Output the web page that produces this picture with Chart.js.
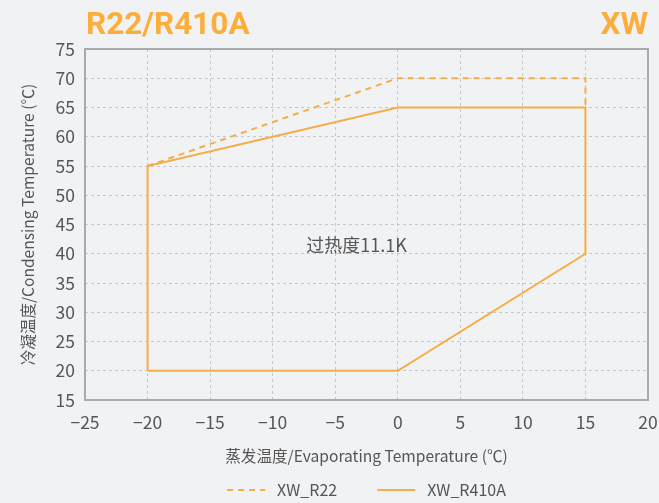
<!DOCTYPE html>
<html>
<head>
<meta charset="utf-8">
<script src="https://cdn.jsdelivr.net/npm/chart.js@4/dist/chart.umd.min.js"></script>
<style>
  html, body { margin: 0; padding: 0; background: #f1f2f4; }
  #wrap { width: 659px; height: 503px; }
</style>
</head>
<body>
<div id="wrap"><canvas id="c" width="659" height="503"></canvas></div>
<script>
const xTicks = [-25, -20, -15, -10, -5, 0, 5, 10, 15, 20];
const yTicks = [15, 20, 25, 30, 35, 40, 45, 50, 55, 60, 65, 70, 75];
const seriesNames = ['XW_R22', 'XW_R410A'];
const r22X = [-20, 0, 15, 15];
const r22Y = [55, 70, 70, 65];
const r410aX = [-20, 0, 15, 15, 0, -20, -20];
const r410aY = [20, 20, 40, 65, 65, 55, 20];
const titleLeft = 'R22/R410A';
const titleRight = 'XW';
const noteText = '过热度11.1K';
const notePos = [-3.3, 41.5];
const xTitle = '蒸发温度/Evaporating Temperature (℃)';
const yTitle = '冷凝温度/Condensing Temperature (℃)';

const ORANGE = '#f5ad45';
const TITLE_ORANGE = '#fcae3c';
const TEXT = '#555555';
const FONT = '"Noto Sans CJK SC", "Noto Sans", sans-serif';

const toPts = (xs, ys) => xs.map((x, i) => ({ x: x, y: ys[i] }));
const fmt = v => String(v).replace('-', '\u2212');

const bgPlugin = {
  id: 'bg',
  beforeDraw(chart) {
    const ctx = chart.ctx;
    ctx.save();
    ctx.fillStyle = '#f1f2f4';
    ctx.fillRect(0, 0, chart.width, chart.height);
    ctx.restore();
  },
  beforeDatasetsDraw(chart) {
    const a = chart.chartArea, ctx = chart.ctx;
    ctx.save();
    ctx.strokeStyle = '#aaaaaa';
    ctx.lineWidth = 2;
    ctx.strokeRect(a.left, a.top, a.right - a.left, a.bottom - a.top);
    ctx.restore();
  },
  afterDatasetsDraw(chart) {
    const ctx = chart.ctx;
    const xs = chart.scales.x, ys = chart.scales.y;
    const a = chart.chartArea;
    ctx.save();
    // annotation
    ctx.fillStyle = TEXT;
    ctx.font = '18px ' + FONT;
    ctx.textAlign = 'center';
    ctx.textBaseline = 'middle';
    ctx.fillText(noteText, xs.getPixelForValue(notePos[0]), ys.getPixelForValue(notePos[1]));
    // titles
    ctx.fillStyle = TITLE_ORANGE;
    ctx.font = 'bold 31.5px Roboto, "Liberation Sans", sans-serif';
    ctx.textBaseline = 'alphabetic';
    ctx.textAlign = 'left';
    ctx.fillText(titleLeft, 86, 34);
    ctx.textAlign = 'right';
    ctx.fillText(titleRight, 648, 34);
    // legend (from datasets)
    const sampleW = 38, gapText = 12, gapItem = 40, ly = 490;
    ctx.font = '16px ' + FONT;
    const items = chart.data.datasets.map(d => ({
      label: d.label, color: d.borderColor, dash: d.borderDash || [], lw: d.borderWidth,
      w: ctx.measureText(d.label).width
    }));
    let total = 0;
    items.forEach((it, i) => { total += sampleW + gapText + it.w + (i < items.length - 1 ? gapItem : 0); });
    let x = (a.left + a.right) / 2 - total / 2;
    items.forEach(it => {
      ctx.strokeStyle = it.color;
      ctx.lineWidth = it.lw;
      ctx.setLineDash(it.dash);
      ctx.beginPath();
      ctx.moveTo(x, ly);
      ctx.lineTo(x + sampleW, ly);
      ctx.stroke();
      ctx.setLineDash([]);
      x += sampleW + gapText;
      ctx.fillStyle = TEXT;
      ctx.textAlign = 'left';
      ctx.textBaseline = 'middle';
      ctx.fillText(it.label, x, ly);
      x += it.w + gapItem;
    });
    ctx.restore();
  }
};

new Chart(document.getElementById('c'), {
  type: 'scatter',
  data: {
    datasets: [
      {
        label: seriesNames[0],
        data: toPts(r22X, r22Y),
        showLine: true,
        borderColor: ORANGE,
        backgroundColor: ORANGE,
        borderWidth: 2,
        borderDash: [6, 5],
        pointRadius: 0,
        tension: 0
      },
      {
        label: seriesNames[1],
        data: toPts(r410aX, r410aY),
        showLine: true,
        borderColor: ORANGE,
        backgroundColor: ORANGE,
        borderWidth: 2,
        pointRadius: 0,
        tension: 0
      }
    ]
  },
  options: {
    responsive: false,
    animation: false,
    devicePixelRatio: 1,
    layout: { padding: { top: 49, right: 11, left: 0, bottom: 0 } },
    plugins: {
      tooltip: { enabled: false },
      legend: { display: false }
    },
    scales: {
      x: {
        type: 'linear',
        min: -25, max: 20,
        afterBuildTicks(s) { s.ticks = xTicks.map(v => ({ value: v })); },
        afterFit(s) { s.height = 103; s.paddingLeft = 0; s.paddingRight = 0; },
        grid: { color: '#c8c8c8', lineWidth: 1, drawTicks: false },
        border: { display: false, dash: [3, 3] },
        ticks: { color: TEXT, font: { family: FONT, size: 17.5 }, padding: 12, maxRotation: 0, autoSkip: false, callback: fmt },
        title: { display: true, text: xTitle, color: TEXT, font: { family: FONT, size: 15.6 }, padding: { top: 0, bottom: 38 } }
      },
      y: {
        type: 'linear',
        min: 15, max: 75,
        afterBuildTicks(s) { s.ticks = yTicks.map(v => ({ value: v })); },
        afterFit(s) { s.width = 85; s.paddingTop = 0; s.paddingBottom = 0; },
        grid: { color: '#c8c8c8', lineWidth: 1, drawTicks: false },
        border: { display: false, dash: [3, 3] },
        ticks: { color: TEXT, font: { family: FONT, size: 17.5 }, padding: 10, autoSkip: false, callback: fmt },
        title: { display: true, text: yTitle, color: TEXT, font: { family: FONT, size: 15.6 }, padding: { top: 19, bottom: 0 } }
      }
    }
  },
  plugins: [bgPlugin]
});
</script>
</body>
</html>
